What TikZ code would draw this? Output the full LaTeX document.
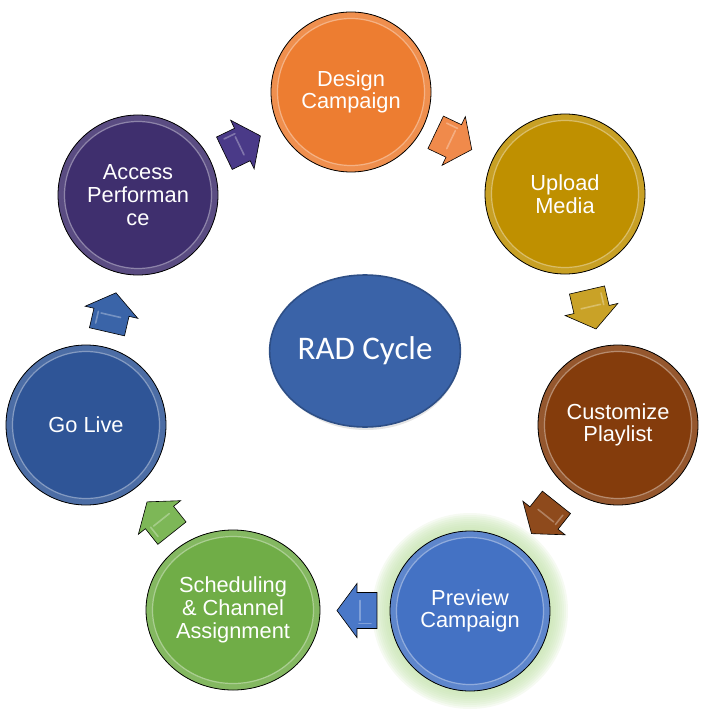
\documentclass[tikz,border=0pt]{standalone}
\usepackage{fontspec}
\setmainfont{Liberation Sans}
\newfontfamily\calibrifont{Carlito}
\usetikzlibrary{shapes.geometric,calc}
\definecolor{cOrange}{HTML}{ED7D31}
\definecolor{cGold}{HTML}{BF9000}
\definecolor{cBrown}{HTML}{843C0C}
\definecolor{cBlue}{HTML}{4472C4}
\definecolor{cGreen}{HTML}{70AD47}
\definecolor{cNavy}{HTML}{2F5597}
\definecolor{cPurple}{HTML}{3F2F6E}
\definecolor{cRad}{HTML}{3A63A8}
\definecolor{cGlow}{HTML}{C5E3AE}
\definecolor{aPurple}{HTML}{4A3A88}
\definecolor{aOrange}{HTML}{F08A4B}
\definecolor{aGold}{HTML}{C9A227}
\definecolor{aBrown}{HTML}{8E4A1C}
\definecolor{aBlue}{HTML}{4A78C8}
\definecolor{aGreen}{HTML}{7DB757}
\definecolor{aNavy}{HTML}{3A64A8}
\tikzset{
  stage/.style={ellipse, minimum width=160pt, minimum height=160pt, inner sep=0pt,
    fill=#1, draw=black, line width=0.8pt, text=white, align=center,
    font=\fontsize{21.8}{22.7}\selectfont,
    path picture={
      \draw[#1!86!white, line width=6pt]
        let \p1=($(path picture bounding box.north east)-(path picture bounding box.center)$) in
        (path picture bounding box.center) ellipse [x radius=\x1-3pt, y radius=\y1-3pt];
      \draw[white, opacity=0.4, line width=1.2pt]
        let \p1=($(path picture bounding box.north east)-(path picture bounding box.center)$) in
        (path picture bounding box.center) ellipse [x radius=\x1-6.5pt, y radius=\y1-6.5pt];
    }},
  blockarrow/.pic={
    \path[pic actions] (-20,-18) -- (0,-18) -- (0,-27) -- (20,0) -- (0,27) -- (0,18) -- (-20,18) -- cycle;
    \draw[white, opacity=0.3, line width=1.6pt, line cap=round]
      (-14,-13) -- (-2,-13);
    \draw[white, opacity=0.3, line width=1.6pt, line cap=round]
      (-3,10) -- (-3,-10);
  },
  arr/.style={fill=#1, draw=black, line width=0.6pt}
}
\begin{document}
\begin{tikzpicture}[x=1pt, y=-1pt]
\useasboundingbox (0,0) rectangle (704,714);
% glow behind Preview
\foreach \r in {82,84,...,98} {
  \fill[cGlow, opacity=0.16] (470,611) circle (\r);
}
\node[stage=cOrange] (des) at (351,92) {Design\\Campaign};
\node[stage=cGold] (upl) at (565,194) {Upload\\Media};
\node[stage=cBrown] (cus) at (618,425) {Customize\\Playlist};
\node[stage=cBlue] (pre) at (470,611) {Preview\\Campaign};
\node[stage=cGreen, minimum width=174pt] (sch) at (233,610) {Scheduling\\\& Channel\\Assignment};
\node[stage=cNavy] (gol) at (86,425) {Go Live};
\node[stage=cPurple] (acc) at (138,195) {Access\\Performan\\ce};
% centre
\fill[black, opacity=0.10] (366,353) ellipse [x radius=94, y radius=77];
\node[ellipse, minimum width=186pt, minimum height=152pt, inner sep=0pt,
  fill=cRad, draw=cRad!80!black, line width=1.6pt, text=white,
  font=\calibrifont\fontsize{33}{35}\selectfont] (rad) at (365,351) {RAD Cycle};
% arrows
\pic[arr=aPurple, rotate=25.8] (a1) at ($(acc)!0.49!(des)$) {blockarrow};
\pic[arr=aOrange, rotate=-25.5] (a2) at ($(des)!0.48!(upl)$) {blockarrow};
\pic[arr=aGold, rotate=-77] (a3) at ($(upl)!0.5!(cus)$) {blockarrow};
\pic[arr=aBrown, rotate=-128.5] (a4) at ($(cus)!0.5!(pre)$) {blockarrow};
\pic[arr=aBlue, rotate=180] (a5) at ($(pre)!0.477!(sch)$) {blockarrow};
\pic[arr=aGreen, rotate=128.5] (a6) at ($(sch)!0.5!(gol)$) {blockarrow};
\pic[arr=aNavy, rotate=77] (a7) at ($(gol)!0.49!(acc)$) {blockarrow};
\end{tikzpicture}
\end{document}
